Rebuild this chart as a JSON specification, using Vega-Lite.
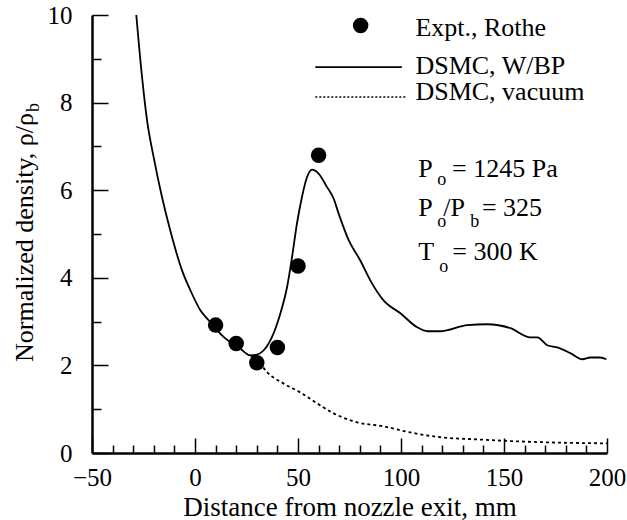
{
  "$schema": "https://vega.github.io/schema/vega-lite/v6.json",
  "width": 515,
  "height": 438,
  "autosize": "none",
  "padding": {"left": 92, "top": 15, "right": 20, "bottom": 67},
  "background": "white",
  "config": {
    "view": {"stroke": null},
    "font": "Liberation Serif",
    "text": {"font": "Liberation Serif", "color": "black"}
  },
  "resolve": {"axis": {"x": "independent", "y": "independent"}},
  "datasets": {
    "wbp": [
      {"x": -28.5, "y": 10.0}, {"x": -25.7, "y": 8.58}, {"x": -23.3, "y": 7.6}, {"x": -20.1, "y": 6.76},
      {"x": -16.0, "y": 5.84}, {"x": -12.0, "y": 5.08}, {"x": -6.3, "y": 4.17}, {"x": -2.2, "y": 3.71},
      {"x": 2.6, "y": 3.26}, {"x": 6.6, "y": 3.03}, {"x": 13.9, "y": 2.65}, {"x": 22.0, "y": 2.38},
      {"x": 26.8, "y": 2.23}, {"x": 29.5, "y": 2.24}, {"x": 33.3, "y": 2.34}, {"x": 37.4, "y": 2.65},
      {"x": 41.4, "y": 3.18}, {"x": 44.7, "y": 3.79}, {"x": 47.1, "y": 4.47}, {"x": 49.5, "y": 5.24},
      {"x": 51.9, "y": 5.84}, {"x": 54.4, "y": 6.3}, {"x": 56.8, "y": 6.47}, {"x": 60.0, "y": 6.38},
      {"x": 64.1, "y": 6.07}, {"x": 67.3, "y": 5.81}, {"x": 69.7, "y": 5.47}, {"x": 74.6, "y": 4.86},
      {"x": 80.2, "y": 4.4}, {"x": 85.1, "y": 3.94}, {"x": 91.4, "y": 3.49}, {"x": 99.7, "y": 3.19},
      {"x": 107.9, "y": 2.87}, {"x": 112.8, "y": 2.78}, {"x": 119.1, "y": 2.78}, {"x": 132.2, "y": 2.92},
      {"x": 141.9, "y": 2.94}, {"x": 153.1, "y": 2.85}, {"x": 162.8, "y": 2.64}, {"x": 166.2, "y": 2.64},
      {"x": 171.0, "y": 2.46}, {"x": 175.9, "y": 2.41}, {"x": 182.2, "y": 2.28}, {"x": 188.0, "y": 2.14},
      {"x": 191.9, "y": 2.18}, {"x": 196.7, "y": 2.18}, {"x": 199.7, "y": 2.14}
    ],
    "vac": [
      {"x": 26.8, "y": 2.23}, {"x": 30.2, "y": 2.12}, {"x": 35.1, "y": 1.84}, {"x": 42.9, "y": 1.59},
      {"x": 51.2, "y": 1.38}, {"x": 59.4, "y": 1.13}, {"x": 67.1, "y": 0.91}, {"x": 78.8, "y": 0.7},
      {"x": 91.4, "y": 0.61}, {"x": 104.5, "y": 0.47}, {"x": 119.1, "y": 0.36}, {"x": 137.1, "y": 0.31},
      {"x": 154.5, "y": 0.27}, {"x": 173.9, "y": 0.24}, {"x": 200.0, "y": 0.22}
    ],
    "expt": [
      {"x": 10, "y": 2.92}, {"x": 20, "y": 2.5}, {"x": 30, "y": 2.06},
      {"x": 40, "y": 2.41}, {"x": 50, "y": 4.27}, {"x": 60, "y": 6.8}
    ],
    "legpt": [{"x": 80.4, "y": 9.76}],
    "legsolid": [{"x": 58.4, "x2": 100.4, "y": 8.81}],
    "legdot": [{"x": 58.4, "x2": 102.3, "y": 8.13}],
    "txt": [
      {"x": 107, "y": 9.53, "t": "Expt., Rothe"},
      {"x": 107, "y": 8.66, "t": "DSMC, W/BP"},
      {"x": 107, "y": 8.05, "t": "DSMC, vacuum"},
      {"x": 108.4, "y": 6.29, "t": "P"},
      {"x": 124.8, "y": 6.29, "t": "= 1245 Pa"},
      {"x": 108.4, "y": 5.4, "t": "P"},
      {"x": 120.5, "y": 5.4, "t": "/P"},
      {"x": 139.3, "y": 5.4, "t": "= 325"},
      {"x": 108.4, "y": 4.4, "t": "T"},
      {"x": 124.9, "y": 4.4, "t": "= 300 K"}
    ],
    "sub": [
      {"x": 117.6, "y": 6.11, "t": "o"},
      {"x": 117.6, "y": 5.15, "t": "o"},
      {"x": 133.6, "y": 5.15, "t": "b"},
      {"x": 118.6, "y": 4.13, "t": "o"}
    ],
    "ytitle": [{"x": -78.5, "y": 7.76, "t": "Normalized density, ρ/ρ"}],
    "ytsub": [{"x": -78.5, "y": 7.76, "t": "b"}]
  },
  "layer": [
    {
      "data": {"name": "wbp"},
      "mark": {"type": "line", "color": "black", "strokeWidth": 1.8, "interpolate": "monotone"},
      "encoding": {
        "x": {
          "field": "x", "type": "quantitative",
          "scale": {"domain": [-50, 200], "nice": false, "zero": false},
          "axis": {
            "orient": "bottom",
            "title": "Distance from nozzle exit, mm",
            "values": [-50, 0, 50, 100, 150, 200],
            "ticks": false,
            "grid": false,
            "labelOverlap": false,
            "labelFlush": false,
            "domainColor": "black", "domainWidth": 2.5,
            "labelFont": "Liberation Serif", "labelFontSize": 25, "labelColor": "black",
            "labelPadding": 12,
            "titleFont": "Liberation Serif", "titleFontSize": 27, "titleFontWeight": "normal", "titleColor": "black",
            "titlePadding": 4
          }
        },
        "y": {
          "field": "y", "type": "quantitative",
          "scale": {"domain": [0, 10], "nice": false, "zero": false},
          "axis": {
            "orient": "left",
            "title": null,
            "values": [0, 2, 4, 6, 8, 10],
            "ticks": false,
            "grid": false,
            "labelOverlap": false,
            "labelFlush": false,
            "domainColor": "black", "domainWidth": 2.5,
            "labelFont": "Liberation Serif", "labelFontSize": 25, "labelColor": "black",
            "labelPadding": 20
          }
        }
      }
    },
    {
      "data": {"name": "vac"},
      "mark": {"type": "line", "color": "black", "strokeWidth": 1.8, "strokeDash": [3, 3], "interpolate": "monotone"},
      "encoding": {
        "x": {
          "field": "x", "type": "quantitative",
          "axis": {
            "orient": "top", "offset": -438, "title": null, "labels": false, "grid": false,
            "domain": false,
            "values": [-50, 0, 50, 100, 150, 200],
            "tickSize": 15, "tickColor": "black", "tickWidth": 1.5
          }
        },
        "y": {
          "field": "y", "type": "quantitative",
          "axis": {
            "orient": "right", "offset": -515, "title": null, "labels": false, "grid": false,
            "domain": false,
            "values": [0, 2, 4, 6, 8, 10],
            "tickSize": 16, "tickColor": "black", "tickWidth": 1.5
          }
        }
      }
    },
    {
      "data": {"name": "expt"},
      "mark": {"type": "point", "filled": true, "color": "black", "opacity": 1, "size": 240},
      "encoding": {
        "x": {
          "field": "x", "type": "quantitative",
          "axis": {
            "orient": "top", "offset": -438, "title": null, "labels": false, "domain": false, "grid": false,
            "values": [-40, -30, -20, -10, 10, 20, 30, 40, 60, 70, 80, 90, 110, 120, 130, 140, 160, 170, 180, 190],
            "tickSize": 8, "tickColor": "black", "tickWidth": 1.5
          }
        },
        "y": {
          "field": "y", "type": "quantitative",
          "axis": {
            "orient": "right", "offset": -515, "title": null, "labels": false, "domain": false, "grid": false,
            "values": [1, 3, 5, 7, 9],
            "tickSize": 9, "tickColor": "black", "tickWidth": 1.5
          }
        }
      }
    },
    {
      "data": {"name": "legpt"},
      "mark": {"type": "point", "filled": true, "color": "black", "opacity": 1, "size": 240},
      "encoding": {"x": {"field": "x", "type": "quantitative", "axis": null}, "y": {"field": "y", "type": "quantitative", "axis": null}}
    },
    {
      "data": {"name": "legsolid"},
      "mark": {"type": "rule", "color": "black", "strokeWidth": 1.8},
      "encoding": {"x": {"field": "x", "type": "quantitative", "axis": null}, "x2": {"field": "x2"}, "y": {"field": "y", "type": "quantitative", "axis": null}}
    },
    {
      "data": {"name": "legdot"},
      "mark": {"type": "rule", "color": "black", "strokeWidth": 1.5, "strokeDash": [2, 2]},
      "encoding": {"x": {"field": "x", "type": "quantitative", "axis": null}, "x2": {"field": "x2"}, "y": {"field": "y", "type": "quantitative", "axis": null}}
    },
    {
      "data": {"name": "txt"},
      "mark": {"type": "text", "align": "left", "baseline": "alphabetic", "fontSize": 26, "font": "Liberation Serif", "color": "black"},
      "encoding": {"x": {"field": "x", "type": "quantitative", "axis": null}, "y": {"field": "y", "type": "quantitative", "axis": null}, "text": {"field": "t"}}
    },
    {
      "data": {"name": "sub"},
      "mark": {"type": "text", "align": "left", "baseline": "alphabetic", "fontSize": 18, "font": "Liberation Serif", "color": "black"},
      "encoding": {"x": {"field": "x", "type": "quantitative", "axis": null}, "y": {"field": "y", "type": "quantitative", "axis": null}, "text": {"field": "t"}}
    },
    {
      "data": {"name": "ytitle"},
      "mark": {"type": "text", "align": "right", "baseline": "alphabetic", "angle": 270, "fontSize": 26, "font": "Liberation Serif", "color": "black"},
      "encoding": {"x": {"field": "x", "type": "quantitative", "axis": null}, "y": {"field": "y", "type": "quantitative", "axis": null}, "text": {"field": "t"}}
    },
    {
      "data": {"name": "ytsub"},
      "mark": {"type": "text", "align": "left", "baseline": "alphabetic", "angle": 270, "dx": 1, "dy": 6, "fontSize": 18, "font": "Liberation Serif", "color": "black"},
      "encoding": {"x": {"field": "x", "type": "quantitative", "axis": null}, "y": {"field": "y", "type": "quantitative", "axis": null}, "text": {"field": "t"}}
    }
  ]
}
